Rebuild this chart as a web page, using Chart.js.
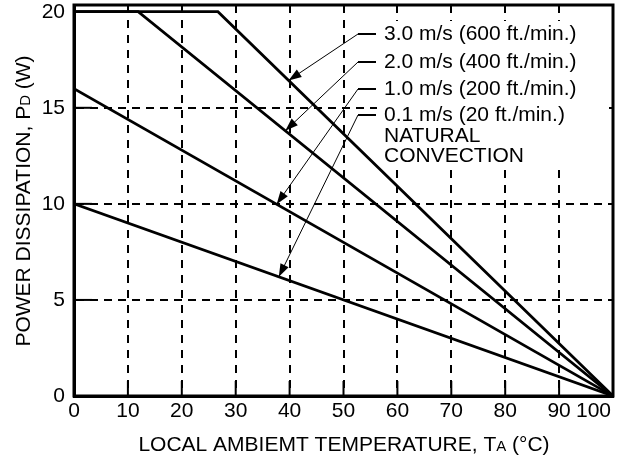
<!DOCTYPE html>
<html>
<head>
<meta charset="utf-8">
<script src="https://cdn.jsdelivr.net/npm/chart.js@4.4.0/dist/chart.umd.min.js"></script>
<style>
  html, body { margin: 0; padding: 0; background: #fff; }
</style>
</head>
<body>
<canvas id="myChart" width="629" height="462"></canvas>
<script>
// values
const temps30 = [0, 26.7, 100];
const power30 = [20, 20, 0];
const temps20 = [0, 11.9, 100];
const power20 = [20, 20, 0];
const temps10 = [0, 100];
const power10 = [16, 0];
const temps01 = [0, 100];
const power01 = [10, 0];

const xTicks = [0, 10, 20, 30, 40, 50, 60, 70, 80, 90, 100];
const yTicks = [0, 5, 10, 15, 20];

const seriesNames = ['3.0 m/s (600 ft./min.)', '2.0 m/s (400 ft./min.)',
                     '1.0 m/s (200 ft./min.)', '0.1 m/s (20 ft./min.)'];
const seriesTemps = [temps30, temps20, temps10, temps01];
const seriesPower = [power30, power20, power10, power01];

const FONT = "'Liberation Sans', Arial, sans-serif";

// where each callout sits (canvas px) and where its arrow lands (temperature on the curve)
const notes = [
  { series: 0, tipX: 39.8, sx: 358, sy: 34, lines: [seriesNames[0]] },
  { series: 1, tipX: 39.2, sx: 358, sy: 62, lines: [seriesNames[1]] },
  { series: 2, tipX: 37.6, sx: 358, sy: 89, lines: [seriesNames[2]] },
  { series: 3, tipX: 38.0, sx: 358, sy: 115, lines: [seriesNames[3], 'NATURAL', 'CONVECTION'] }
];
// blank patch behind the callout text (canvas px)
const noteBox = { x1: 377, y1: 21, x2: 609, y2: 170 };

function powerAt(i, t) {
  const xs = seriesTemps[i], ys = seriesPower[i];
  for (let k = 0; k < xs.length - 1; k++) {
    if (t >= xs[k] && t <= xs[k + 1]) {
      return ys[k] + (ys[k + 1] - ys[k]) * (t - xs[k]) / (xs[k + 1] - xs[k]);
    }
  }
  return ys[ys.length - 1];
}

function line(ctx, x1, y1, x2, y2) {
  ctx.beginPath();
  ctx.moveTo(x1, y1);
  ctx.lineTo(x2, y2);
  ctx.stroke();
}

function drawParts(ctx, parts, cx, cy) {
  // parts: [text, size]; drawn centred on cx, sharing a baseline at cy
  let total = 0;
  parts.forEach(p => { ctx.font = p[1] + 'px ' + FONT; p.w = ctx.measureText(p[0]).width; total += p.w; });
  let px = cx - total / 2;
  ctx.textAlign = 'left';
  ctx.textBaseline = 'alphabetic';
  parts.forEach(p => { ctx.font = p[1] + 'px ' + FONT; ctx.fillText(p[0], px, cy); px += p.w; });
}

const extras = {
  id: 'extras',
  beforeDatasetsDraw(chart) {
    const ctx = chart.ctx;
    ctx.save();
    ctx.fillStyle = '#fff';
    ctx.fillRect(noteBox.x1, noteBox.y1, noteBox.x2 - noteBox.x1, noteBox.y2 - noteBox.y1);
    ctx.restore();
  },
  afterDraw(chart) {
    const { ctx, chartArea: a, scales: { x, y } } = chart;
    ctx.save();
    ctx.strokeStyle = '#000';
    ctx.fillStyle = '#000';
    ctx.setLineDash([]);

    // short solid ticks on the inside
    ctx.lineWidth = 2;
    yTicks.forEach(v => {
      if (v <= 0 || v >= 20) return;
      const py = y.getPixelForValue(v);
      line(ctx, a.left, py, a.left + 18, py);
    });
    xTicks.forEach(v => {
      if (v <= 0 || v >= 100) return;
      const px = x.getPixelForValue(v);
      line(ctx, px, a.bottom, px, a.bottom - 15);
    });

    // frame
    ctx.lineWidth = 3;
    ctx.strokeRect(a.left, a.top, a.right - a.left, a.bottom - a.top);

    // last x label pulled inside the frame
    ctx.font = '21px ' + FONT;
    ctx.textAlign = 'right';
    ctx.textBaseline = 'middle';
    ctx.fillText('100', x.getPixelForValue(100) - 2, x.top + 3 + 21 * 1.2 / 2);

    // callouts
    notes.forEach(n => {
      const tx = x.getPixelForValue(n.tipX);
      const ty = y.getPixelForValue(powerAt(n.series, n.tipX));
      ctx.lineWidth = 2;
      line(ctx, n.sx, n.sy, n.sx + 18, n.sy);
      ctx.lineWidth = 1;
      line(ctx, n.sx, n.sy, tx, ty);
      const ang = Math.atan2(ty - n.sy, tx - n.sx);
      const len = 13, hw = 4.5;
      const bx = tx - len * Math.cos(ang), by = ty - len * Math.sin(ang);
      ctx.beginPath();
      ctx.moveTo(tx, ty);
      ctx.lineTo(bx + hw * Math.sin(ang), by - hw * Math.cos(ang));
      ctx.lineTo(bx - hw * Math.sin(ang), by + hw * Math.cos(ang));
      ctx.closePath();
      ctx.fill();

      ctx.font = '21px ' + FONT;
      ctx.textAlign = 'left';
      ctx.textBaseline = 'middle';
      n.lines.forEach((t, k) => {
        const gap = k === 0 ? 0 : 2 + k * 19.5;
        ctx.fillText(t, n.sx + 26, n.sy + gap);
      });
    });

    // axis titles with the small subscript letters
    drawParts(ctx, [['LOCAL AMBIEMT TEMPERATURE, T', 21], ['A', 15], [' (\u00B0C)', 21]], 344, 451);
    ctx.save();
    ctx.translate(30, 201);
    ctx.rotate(-Math.PI / 2);
    drawParts(ctx, [['POWER DISSIPATION, P', 21], ['D', 15], [' (W)', 21]], 0, 0);
    ctx.restore();

    ctx.restore();
  }
};

const datasets = seriesNames.map((name, i) => ({
  label: name,
  data: seriesTemps[i].map((t, k) => ({ x: t, y: seriesPower[i][k] })),
  showLine: true,
  borderColor: '#000',
  borderWidth: 2.7,
  pointRadius: 0,
  fill: false
}));

const ctxEl = document.getElementById('myChart');
new Chart(ctxEl, {
  type: 'scatter',
  data: { datasets: datasets },
  options: {
    responsive: false,
    animation: false,
    layout: { padding: { top: 5, right: 16, left: 0, bottom: 0 } },
    plugins: { legend: { display: false }, tooltip: { enabled: false } },
    scales: {
      x: {
        type: 'linear',
        min: 0,
        max: 100,
        afterBuildTicks: s => { s.ticks = xTicks.map(v => ({ value: v })); },
        afterFit: s => { s.height = 66; s.paddingLeft = 0; s.paddingRight = 0; },
        ticks: {
          autoSkip: false,
          maxRotation: 0,
          padding: 3,
          color: '#000',
          font: { family: FONT, size: 21 },
          callback: v => (v === 100 ? '' : v)
        },
        grid: { color: '#000', lineWidth: 2, drawTicks: false },
        border: { display: true, color: '#000', width: 3, dash: [8, 7] }
      },
      y: {
        type: 'linear',
        min: 0,
        max: 20.35,
        afterBuildTicks: s => { s.ticks = yTicks.map(v => ({ value: v })); },
        afterFit: s => { s.width = 74; s.paddingTop = 0; s.paddingBottom = 0; },
        ticks: {
          padding: 9,
          color: '#000',
          font: { family: FONT, size: 21 }
        },
        grid: {
          color: c => (c.tick && c.tick.value === 20 ? 'rgba(0,0,0,0)' : '#000'),
          lineWidth: 2,
          drawTicks: false
        },
        border: { display: true, color: '#000', width: 3, dash: [8, 6] }
      }
    }
  },
  plugins: [extras]
});
</script>
</body>
</html>
